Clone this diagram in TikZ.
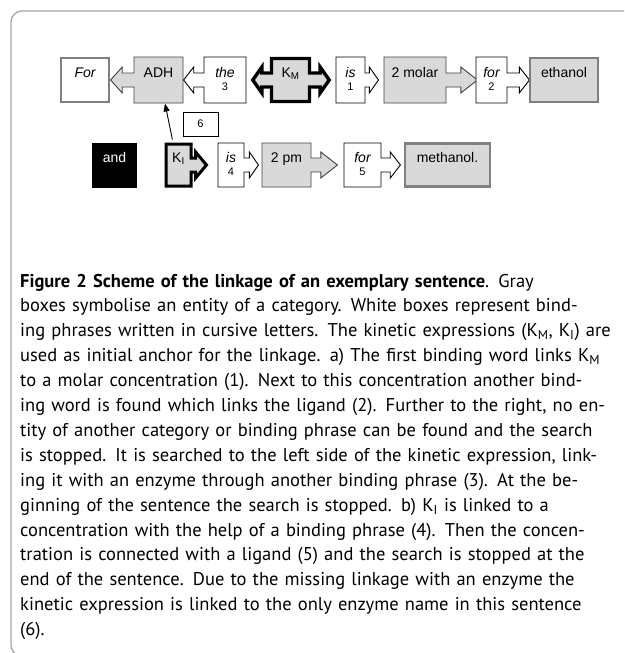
\documentclass[tikz,border=0pt]{standalone}
\usepackage{fontspec}
\newfontfamily\boxfont{Liberation Sans}
\newfontfamily\capfont{PT Sans}
\usetikzlibrary{shapes.arrows,arrows.meta}

\definecolor{boxgray}{HTML}{D9D9D9}
\definecolor{rimgray}{HTML}{808080}
\definecolor{framegray}{HTML}{A6A6A6}

\newcommand{\wordfont}{\boxfont\fontsize{14}{16.8}\selectfont}
\newcommand{\numfont}{\fontsize{11}{13}\selectfont}
\newcommand{\bindword}[2]{\begin{tabular}[t]{@{}c@{}}\itshape #1\\[-3pt]{\numfont #2}\end{tabular}}
\newcommand{\capline}[1]{\hbox to 586pt{#1}\par}

\tikzset{
  word/.style={inner sep=0pt, font=\wordfont, text height=10pt, text depth=16pt, line width=0.9pt},
  arrowbox/.style={word, shape=arrow box, arrow box shaft width=14pt, arrow box head extend=6pt,
    arrow box head indent=0pt, arrow box tip angle=104},
  entity/.style={arrowbox, draw=black!75, fill=boxgray},
  binding/.style={arrowbox, draw=black, fill=white},
  anchorbox/.style={arrowbox, draw=black, fill=boxgray, line width=3.4pt},
  endbox/.style={word, rectangle, draw=rimgray, line width=2.6pt}
}

\begin{document}
\begin{tikzpicture}[x=1pt, y=-1pt]
\useasboundingbox (0,0) rectangle (624,653);
\clip (0,0) rectangle (624,653);
\draw[framegray, line width=1.3pt, rounded corners=11pt] (640,11) -- (11,11) -- (11,656) -- (60,656);
% first sentence part
\node[endbox, fill=white, minimum width=48pt, minimum height=44pt, font=\wordfont\itshape] (For) at (85,80) {For};
\node[entity, minimum width=49pt, minimum height=46pt, arrow box arrows={west:23pt}, arrow box tip angle=96] (ADH) at (158.5,80) {ADH};
\node[binding, minimum width=42pt, minimum height=46pt, arrow box arrows={west:20pt}] (the) at (225,80) {\bindword{the}{3}};
\node[anchorbox, minimum width=38pt, minimum height=43pt, arrow box arrows={west:17pt, east:18pt}, arrow box tip angle=110] (KM) at (290.5,80) {K\textsubscript{M}};
\node[binding, minimum width=29pt, minimum height=46pt, arrow box arrows={east:13pt}, arrow box tip angle=110] (is1) at (350.5,80) {\bindword{is}{1}};
\node[entity, minimum width=62pt, minimum height=46pt, arrow box arrows={east:31pt}, arrow box tip angle=76] (molar) at (415,80) {2 molar};
\node[binding, minimum width=31pt, minimum height=46pt, arrow box arrows={east:22pt}] (for2) at (491.5,80) {\bindword{for}{2}};
\node[endbox, fill=boxgray, minimum width=68pt, minimum height=44pt] (ethanol) at (564,80) {ethanol};
% second sentence part
\node[word, rectangle, fill=black, text=white, minimum width=45pt, minimum height=45pt] (and) at (114.5,165) {and};
\node[anchorbox, line width=3pt, minimum width=25pt, minimum height=42pt, arrow box arrows={east:14pt}, arrow box tip angle=100] (KI) at (178.5,165) {K\textsubscript{I}};
\node[binding, minimum width=26pt, minimum height=44pt, arrow box arrows={east:14pt}, arrow box tip angle=110] (is4) at (231,165) {\bindword{is}{4}};
\node[entity, minimum width=49pt, minimum height=44pt, arrow box arrows={east:26pt}, arrow box tip angle=76] (pm) at (286.5,165) {2 pm};
\node[binding, minimum width=37pt, minimum height=44pt, arrow box arrows={east:19pt}] (for5) at (362.5,165) {\bindword{for}{5}};
\node[endbox, fill=boxgray, minimum width=85pt, minimum height=43pt] (methanol) at (447.5,165) {methanol.};
\node[rectangle, draw=black, line width=0.9pt, minimum width=35pt, minimum height=24pt, inner sep=0pt, font=\boxfont\numfont] (six) at (200.5,124) {6};
\draw[-{Triangle[length=8pt,width=6pt]}, line width=0.9pt, shorten <=3pt] ([xshift=-5.5pt]KI.north) -- ([xshift=6.5pt]ADH.south);
% caption
\node[anchor=base west, inner sep=0pt, text width=586pt, font=\capfont\fontsize{18.5}{24.9}\selectfont] (caption) at (20,287) {%
\hbox to 556pt{{\bfseries Figure 2 Scheme of the linkage of an exemplary sentence}. Gray}\par
\capline{boxes symbolise an entity of a category. White boxes represent bind-}%
\capline{ing phrases written in cursive letters. The kinetic expressions (K\textsubscript{M}, K\textsubscript{I}) are}%
\capline{used as initial anchor for the linkage. a) The first binding word links K\textsubscript{M}}%
\capline{to a molar concentration (1). Next to this concentration another bind-}%
\capline{ing word is found which links the ligand (2). Further to the right, no en-}%
\capline{tity of another category or binding phrase can be found and the search}%
\capline{is stopped. It is searched to the left side of the kinetic expression, link-}%
\capline{ing it with an enzyme through another binding phrase (3). At the be-}%
\capline{ginning of the sentence the search is stopped. b) K\textsubscript{I} is linked to a}%
\capline{concentration with the help of a binding phrase (4). Then the concen-}%
\capline{tration is connected with a ligand (5) and the search is stopped at the}%
\capline{end of the sentence. Due to the missing linkage with an enzyme the}%
\capline{kinetic expression is linked to the only enzyme name in this sentence}%
\hbox{(6).}};
\end{tikzpicture}
\end{document}
